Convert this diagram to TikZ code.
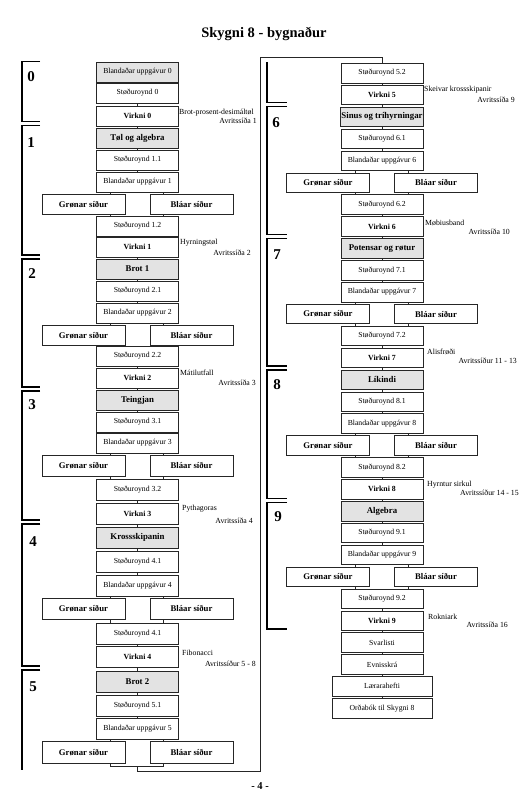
\documentclass[tikz,border=0pt]{standalone}
\usepackage{fontspec}
\setmainfont{Liberation Serif}
\usetikzlibrary{calc}
\newcommand\gbpair[4]{%
  \node[gbox, minimum height=#4] (#1G) at (#2-54,#3) {Grønar síður};
  \node[gbox, minimum height=#4] (#1B) at (#2+54,#3) {Bláar síður};}
\newcommand\gblink[3]{%
  \path ([xshift=-27pt]#1.south) coordinate (ta) ([xshift=26pt]#1.south) coordinate (tb)
        ([xshift=-27pt]#3.north) coordinate (tc) ([xshift=26pt]#3.north) coordinate (td);
  \draw[conn] (ta) -- (ta |- #2G.north);
  \draw[conn] (tb) -- (tb |- #2B.north);
  \draw[conn] (tc) -- (tc |- #2G.south);
  \draw[conn] (td) -- (td |- #2B.south);}
\newcommand\lk[2]{\draw[conn] (#1.south) -- (#2.north);}
\begin{document}
\begin{tikzpicture}[x=1pt,y=-1pt,
  box/.style={draw=black!85, line width=0.7pt, minimum width=82pt, inner sep=1pt, anchor=north,
    font=\fontsize{7.7}{9}\selectfont},
  shade/.style={fill=gray!22},
  head/.style={box, shade, font=\bfseries\fontsize{8.8}{10}\selectfont},
  vbox/.style={box, font=\bfseries\fontsize{7.8}{9}\selectfont},
  gbox/.style={box, minimum width=83pt, font=\bfseries\fontsize{8.7}{10}\selectfont},
  wbox/.style={box, minimum width=100pt},
  conn/.style={line width=0.6pt, black!85},
  brk/.style={line width=1.8pt, black},
  secnum/.style={font=\bfseries\fontsize{15}{16}\selectfont, inner sep=0pt},
  lab/.style={font=\fontsize{7.8}{9}\selectfont, inner sep=0pt},
  ha/.style={minimum height=19.5pt},
  hb/.style={minimum height=21pt}]
\useasboundingbox (0,0) rectangle (528,798);
\node[font=\bfseries\fontsize{14.5}{16}\selectfont] (title) at (264,34) {Skygni 8 - bygnaður};
% ---------- left column ----------
\def\cl{137.5}
\node[box,shade,ha] (L0) at (\cl,62) {Blandaðar uppgávur 0};
\node[box,ha] (L1) at (\cl,83) {Støðuroynd 0};
\node[vbox,ha] (L2) at (\cl,106) {Virkni 0};
\node[head,ha] (L3) at (\cl,128) {Tøl og algebra};
\node[box,ha] (L4) at (\cl,150) {Støðuroynd 1.1};
\node[box,ha] (L5) at (\cl,172) {Blandaðar uppgávur 1};
\gbpair{P6}{\cl}{194}{19.5pt}
\node[box,ha] (L7) at (\cl,216) {Støðuroynd 1.2};
\node[vbox,ha] (L8) at (\cl,237) {Virkni 1};
\node[head,ha] (L9) at (\cl,259) {Brot 1};
\node[box,ha] (L10) at (\cl,281) {Støðuroynd 2.1};
\node[box,ha] (L11) at (\cl,303) {Blandaðar uppgávur 2};
\gbpair{P12}{\cl}{325}{19.5pt}
\node[box,ha] (L13) at (\cl,346) {Støðuroynd 2.2};
\node[vbox,ha] (L14) at (\cl,368) {Virkni 2};
\node[head,ha] (L15) at (\cl,390) {Teingjan};
\node[box,ha] (L16) at (\cl,412) {Støðuroynd 3.1};
\node[box,ha] (L17) at (\cl,433) {Blandaðar uppgávur 3};
\gbpair{P18}{\cl}{455}{21pt}
\node[box,hb] (L19) at (\cl,479) {Støðuroynd 3.2};
\node[vbox,hb] (L20) at (\cl,503) {Virkni 3};
\node[head,hb] (L21) at (\cl,527) {Krossskipanin};
\node[box,hb] (L22) at (\cl,551) {Støðuroynd 4.1};
\node[box,hb] (L23) at (\cl,575) {Blandaðar uppgávur 4};
\gbpair{P24}{\cl}{598}{21pt}
\node[box,hb] (L25) at (\cl,623) {Støðuroynd 4.1};
\node[vbox,hb] (L26) at (\cl,646) {Virkni 4};
\node[head,hb] (L27) at (\cl,671) {Brot 2};
\node[box,hb] (L28) at (\cl,695) {Støðuroynd 5.1};
\node[box,hb] (L29) at (\cl,718) {Blandaðar uppgávur 5};
\gbpair{P30}{\cl}{741}{21.5pt}
\lk{L0}{L1}\lk{L1}{L2}\lk{L2}{L3}\lk{L3}{L4}\lk{L4}{L5}
\gblink{L5}{P6}{L7}
\lk{L7}{L8}\lk{L8}{L9}\lk{L9}{L10}\lk{L10}{L11}
\gblink{L11}{P12}{L13}
\lk{L13}{L14}\lk{L14}{L15}\lk{L15}{L16}\lk{L16}{L17}
\gblink{L17}{P18}{L19}
\lk{L19}{L20}\lk{L20}{L21}\lk{L21}{L22}\lk{L22}{L23}
\gblink{L23}{P24}{L25}
\lk{L25}{L26}\lk{L26}{L27}\lk{L27}{L28}\lk{L28}{L29}
\path ([xshift=-27pt]L29.south) coordinate (ta) ([xshift=26pt]L29.south) coordinate (tb);
\draw[conn] (ta) -- (ta |- P30G.north);
\draw[conn] (tb) -- (tb |- P30B.north);
% ---------- right column ----------
\def\cr{382}
\node[box,ha] (R0) at (\cr,63) {Støðuroynd 5.2};
\node[vbox,ha] (R1) at (\cr,84.9) {Virkni 5};
\node[head,ha] (R2) at (\cr,106.8) {Sinus og tríhyrningar};
\node[box,ha] (R3) at (\cr,128.7) {Støðuroynd 6.1};
\node[box,ha] (R4) at (\cr,150.6) {Blandaðar uppgávur 6};
\gbpair{Q5}{\cr}{172.5}{19.5pt}
\node[box,ha] (R6) at (\cr,194.4) {Støðuroynd 6.2};
\node[vbox,ha] (R7) at (\cr,216.3) {Virkni 6};
\node[head,ha] (R8) at (\cr,238.2) {Potensar og røtur};
\node[box,ha] (R9) at (\cr,260.1) {Støðuroynd 7.1};
\node[box,ha] (R10) at (\cr,282) {Blandaðar uppgávur 7};
\gbpair{Q11}{\cr}{303.9}{19.5pt}
\node[box,ha] (R12) at (\cr,325.8) {Støðuroynd 7.2};
\node[vbox,ha] (R13) at (\cr,347.7) {Virkni 7};
\node[head,ha] (R14) at (\cr,369.6) {Líkindi};
\node[box,ha] (R15) at (\cr,391.5) {Støðuroynd 8.1};
\node[box,ha] (R16) at (\cr,413.4) {Blandaðar uppgávur 8};
\gbpair{Q17}{\cr}{435.3}{19.5pt}
\node[box,ha] (R18) at (\cr,457.2) {Støðuroynd 8.2};
\node[vbox,ha] (R19) at (\cr,479.1) {Virkni 8};
\node[head,ha] (R20) at (\cr,501) {Algebra};
\node[box,ha] (R21) at (\cr,522.9) {Støðuroynd 9.1};
\node[box,ha] (R22) at (\cr,544.8) {Blandaðar uppgávur 9};
\gbpair{Q23}{\cr}{566.7}{19.5pt}
\node[box,ha] (R24) at (\cr,588.6) {Støðuroynd 9.2};
\node[vbox,ha] (R25) at (\cr,610.5) {Virkni 9};
\node[box,ha] (R26) at (\cr,632.4) {Svarlisti};
\node[box,ha] (R27) at (\cr,654.3) {Evnisskrá};
\node[wbox,ha] (R28) at (\cr,676.2) {Lærarahefti};
\node[wbox,ha] (R29) at (\cr,698.1) {Orðabók til Skygni 8};
\lk{R0}{R1}\lk{R1}{R2}\lk{R2}{R3}\lk{R3}{R4}
\gblink{R4}{Q5}{R6}
\lk{R6}{R7}\lk{R7}{R8}\lk{R8}{R9}\lk{R9}{R10}
\gblink{R10}{Q11}{R12}
\lk{R12}{R13}\lk{R13}{R14}\lk{R14}{R15}\lk{R15}{R16}
\gblink{R16}{Q17}{R18}
\lk{R18}{R19}\lk{R19}{R20}\lk{R20}{R21}\lk{R21}{R22}
\gblink{R22}{Q23}{R24}
\lk{R24}{R25}\lk{R25}{R26}\lk{R26}{R27}\lk{R27}{R28}\lk{R28}{R29}
% ---------- link between columns ----------
\coordinate (jl) at (110.5,766);
\coordinate (jr) at (163.5,766);
\coordinate (jm) at (137.5,766);
\coordinate (jd) at (137.5,771);
\coordinate (jc) at (260,771);
\coordinate (jt) at (260,57);
\coordinate (jtr) at (382,57);
\draw[conn] (P30G.south -| jl) -- (jl) -- (jr) -- (P30B.south -| jr);
\draw[conn] (jm) -- (jd) -- (jc) -- (jt) -- (jtr) -- (R0.north);
% ---------- brackets ----------
\draw[brk] (40,61.5) -- (22,61.5) -- (22,121.5) -- (40,121.5);
\draw[brk] (40,125.5) -- (22,125.5) -- (22,255) -- (40,255);
\draw[brk] (40,259) -- (22,259) -- (22,387) -- (40,387);
\draw[brk] (40,391) -- (22,391) -- (22,520) -- (40,520);
\draw[brk] (40,524) -- (22,524) -- (22,666) -- (40,666);
\draw[brk] (40,670) -- (22,670) -- (22,770);
\draw[brk] (267,62) -- (267,102.5) -- (287,102.5);
\draw[brk] (287,106.5) -- (267,106.5) -- (267,234.5) -- (287,234.5);
\draw[brk] (287,238.5) -- (267,238.5) -- (267,366) -- (287,366);
\draw[brk] (287,370) -- (267,370) -- (267,498.5) -- (287,498.5);
\draw[brk] (287,502.5) -- (267,502.5) -- (267,629) -- (287,629);
\node[secnum] (s0) at (31,77) {0};
\node[secnum] (s1) at (31,143) {1};
\node[secnum] (s2) at (32,274) {2};
\node[secnum] (s3) at (32,405) {3};
\node[secnum] (s4) at (33,542) {4};
\node[secnum] (s5) at (33,687) {5};
\node[secnum] (s6) at (276,123) {6};
\node[secnum] (s7) at (277,255) {7};
\node[secnum] (s8) at (277,385) {8};
\node[secnum] (s9) at (278,517) {9};
% ---------- side labels ----------
\node[lab,anchor=west] (a0) at (179,112.5) {Brot-prosent-desimáltøl};
\node[lab,anchor=east] (b0) at (257,121) {Avritssíða 1};
\node[lab,anchor=west] (a1) at (180,243) {Hyrningstøl};
\node[lab,anchor=east] (b1) at (251,253) {Avritssíða 2};
\node[lab,anchor=west] (a2) at (180,373) {Mátilutfall};
\node[lab,anchor=east] (b2) at (256,383) {Avritssíða 3};
\node[lab,anchor=west] (a3) at (182,509) {Pythagoras};
\node[lab,anchor=east] (b3) at (253,521) {Avritssíða 4};
\node[lab,anchor=west] (a4) at (182,653) {Fibonacci};
\node[lab,anchor=east] (b4) at (256,664) {Avritssíður 5 - 8};
\node[lab,anchor=west] (a5) at (424,90) {Skeivar krossskipanir};
\node[lab,anchor=east] (b5) at (515,100) {Avritssíða 9};
\node[lab,anchor=west] (a6) at (425,223) {Møbiusband};
\node[lab,anchor=east] (b6) at (510,232) {Avritssíða 10};
\node[lab,anchor=west] (a7) at (427,352) {Alisfrøði};
\node[lab,anchor=east] (b7) at (517,361) {Avritssíður 11 - 13};
\node[lab,anchor=west] (a8) at (427,485) {Hyrntur sirkul};
\node[lab,anchor=east] (b8) at (519,493) {Avritssíður 14 - 15};
\node[lab,anchor=west] (a9) at (428,617) {Rokniark};
\node[lab,anchor=east] (b9) at (508,625) {Avritssíða 16};
\node[font=\bfseries\fontsize{10.5}{12}\selectfont] (page) at (260,786) {- 4 -};
\end{tikzpicture}
\end{document}
